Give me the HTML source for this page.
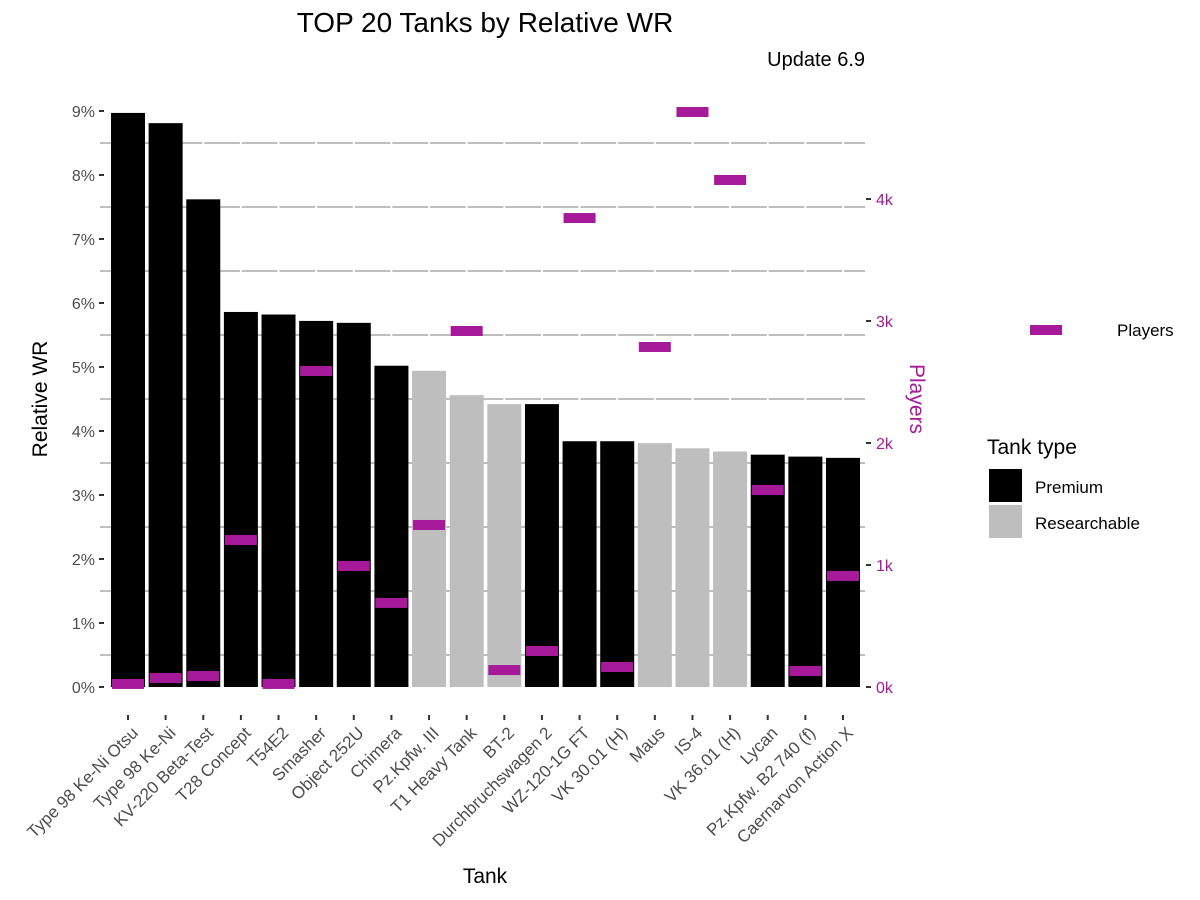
<!DOCTYPE html>
<html><head><meta charset="utf-8"><style>
body{margin:0;background:#fff}
svg{display:block;font-family:"Liberation Sans",Arial,sans-serif}
</style></head><body>
<svg id="chart" width="1200" height="900">
<text x="485" y="32" font-size="28" text-anchor="middle">TOP 20 Tanks by Relative WR</text>
<text x="865" y="66" font-size="20" text-anchor="end">Update 6.9</text>
<text x="0" y="0" font-size="21" text-anchor="middle" transform="translate(47,399) rotate(-90)">Relative WR</text>
<text x="0" y="0" font-size="21" fill="#A61A9A" text-anchor="middle" transform="translate(910,399) rotate(90)">Players</text>
<text x="485" y="883" font-size="21" text-anchor="middle">Tank</text>
<g>
<rect x="1030" y="325" width="32" height="10" fill="#A61A9A"/>
<text x="1117" y="336" font-size="17">Players</text>
</g>
<g>
<text x="987" y="454" font-size="21">Tank type</text>
<rect x="989" y="469" width="33" height="33" fill="#000"/>
<text x="1035" y="493" font-size="17">Premium</text>
<rect x="989" y="505" width="33" height="33" fill="#bebebe"/>
<text x="1035" y="529" font-size="17">Researchable</text>
</g>
<g id="grid"></g><g id="bars"></g><g id="marks"></g><g id="axes"></g>
</svg>
<script>
const tanks=["Type 98 Ke-Ni Otsu","Type 98 Ke-Ni","KV-220 Beta-Test","T28 Concept","T54E2","Smasher","Object 252U","Chimera","Pz.Kpfw. III","T1 Heavy Tank","BT-2","Durchbruchswagen 2","WZ-120-1G FT","VK 30.01 (H)","Maus","IS-4","VK 36.01 (H)","Lycan","Pz.Kpfw. B2 740 (f)","Caernarvon Action X"];
const types=["P","P","P","P","P","P","P","P","R","R","R","P","P","P","R","R","R","P","P","P"];
const wr=[8.97,8.81,7.62,5.86,5.82,5.72,5.69,5.02,4.94,4.56,4.42,4.42,3.84,3.84,3.81,3.73,3.68,3.63,3.60,3.58];
const players=[25,74,90,1205,25,2590,992,689,1328,2918,139,295,3844,164,2787,4713,4156,1615,131,910];
const wrTicks=[0,1,2,3,4,5,6,7,8,9];
const plTicks=[0,1000,2000,3000,4000];
const plTickLabels=["0k","1k","2k","3k","4k"];
const NS="http://www.w3.org/2000/svg";
const x0=128,step=(843-128)/19,bw=34;
const xs=i=>x0+i*step;
const yL=v=>687-v*64;
const yR=v=>687-v*0.122;
function mk(p,tag,at){const e=document.createElementNS(NS,tag);for(const k in at)e.setAttribute(k,at[k]);document.getElementById(p).appendChild(e);return e;}
for(let t=0;t<wrTicks.length-1;t++){const v=wrTicks[t]+0.5;
  for(let i=-1;i<20;i++){const a=i<0?100:xs(i)+1,b=i==19?865:xs(i+1)-1;
    const l=mk("grid","line",{x1:a,x2:b,y1:yL(v),y2:yL(v),stroke:"#bebebe","stroke-width":2});
    
    }}
tanks.forEach((n,i)=>{
  const r=mk("bars","rect",{x:xs(i)-bw/2,y:yL(wr[i]),width:bw,height:yL(0)-yL(wr[i]),fill:types[i]=="P"?"#000":"#bebebe"});
  
  
  const m=mk("marks","rect",{x:xs(i)-16,y:yR(players[i])-5,width:32,height:10,fill:"#A61A9A"});
  
  
  const tk=mk("axes","line",{x1:xs(i),x2:xs(i),y1:715,y2:720,stroke:"#333","stroke-width":2});
  
  
  const t=mk("axes","text",{x:0,y:0,"font-size":17,fill:"#4d4d4d","text-anchor":"end",transform:`translate(${xs(i)+11},${734}) rotate(-45)`});
  t.textContent=n;
  
  
});
wrTicks.forEach(v=>{
  const l=mk("axes","line",{x1:99,x2:104,y1:yL(v),y2:yL(v),stroke:"#333","stroke-width":2});
  
  
  const t=mk("axes","text",{x:95,y:yL(v)+6,"font-size":16,fill:"#4d4d4d","text-anchor":"end"});
  t.textContent=v+"%";
  
  
});
plTicks.forEach((v,k)=>{
  const l=mk("axes","line",{x1:866,x2:871,y1:yR(v),y2:yR(v),stroke:"#333","stroke-width":2});
  
  
  const t=mk("axes","text",{x:876,y:yR(v)+6,"font-size":16,fill:"#A61A9A"});
  t.textContent=plTickLabels[k];
  
  
});
</script>
</body></html>
